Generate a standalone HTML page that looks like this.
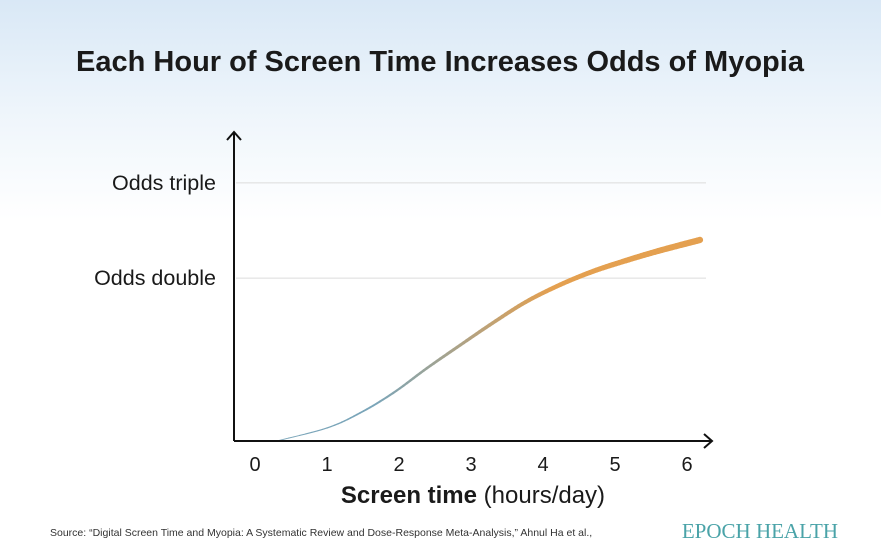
<!DOCTYPE html>
<html style="background:#fff"><head><meta charset="utf-8"><style>
html,body{margin:0;width:881px;height:544px;overflow:hidden;}
body{font-family:"Liberation Sans",sans-serif;background:linear-gradient(#d9e8f6 0px,#eef5fb 110px,#fff 220px,#fff 544px);}
svg{display:block}
</style></head><body>
<svg width="881" height="544" xmlns="http://www.w3.org/2000/svg">
<text x="440" y="71" text-anchor="middle" font-size="29" font-weight="bold" fill="#1a1a1a">Each Hour of Screen Time Increases Odds of Myopia</text>
<g id="grid"></g>
<g id="curve"></g>
<g id="axes"></g>
<text x="473" y="503" text-anchor="middle" font-size="24" fill="#1a1a1a"><tspan font-weight="bold">Screen time</tspan> (hours/day)</text>
<text x="50" y="536" font-size="10.5" fill="#333">Source: “Digital Screen Time and Myopia: A Systematic Review and Dose-Response Meta-Analysis,” Ahnul Ha et al.,</text>
<text x="838" y="538" text-anchor="end" font-size="21" fill="#4aa3a8" font-family="Liberation Serif,serif">EPOCH HEALTH</text>
</svg>
<script>
const hours=[0.3,1.0,1.46,1.92,2.39,2.85,3.3,3.76,4.24,4.7,5.15,5.6,6.18];
const odds=[1.0,1.057,1.127,1.227,1.364,1.504,1.652,1.807,1.945,2.06,2.155,2.245,2.353];
const xTicks=[0,1,2,3,4,5,6];
const yTickValues=[2,3];
const yTickLabels=["Odds double","Odds triple"];
const NS="http://www.w3.org/2000/svg";
const X=h=>255+h*72;
const Y=o=>441-541*Math.log10(o);
function mk(tag,attrs,parent){const e=document.createElementNS(NS,tag);for(const k in attrs)e.setAttribute(k,attrs[k]);parent.appendChild(e);return e;}
const grid=document.getElementById('grid'),axes=document.getElementById('axes'),curve=document.getElementById('curve');
yTickValues.forEach((v,i)=>{
 const l=mk('line',{x1:236,x2:706,y1:Y(v),y2:Y(v),stroke:'#dcdcdc','stroke-width':1},grid);
 
 
 const t=mk('text',{x:216,y:Y(v)+7,'text-anchor':'end','font-size':21.5,fill:'#1a1a1a'},grid);
 t.textContent=yTickLabels[i];
 
 
});
xTicks.forEach(h=>{
 const t=mk('text',{x:X(h),y:471,'text-anchor':'middle','font-size':20,fill:'#1a1a1a'},axes);
 t.textContent=h;
 
 
});
const ax=mk('path',{d:'M234,441 L234,132 M227,140 L234,132 L241,140 M234,441 L712,441 M704,434 L712,441 L704,448',fill:'none',stroke:'#111','stroke-width':2},axes);


const pts=hours.map((h,i)=>[X(h),Y(odds[i])]);
const samp=[];
for(let i=0;i<pts.length-1;i++){
 const p0=pts[Math.max(0,i-1)],p1=pts[i],p2=pts[i+1],p3=pts[Math.min(pts.length-1,i+2)];
 for(let s=0;s<10;s++){const t=s/10,t2=t*t,t3=t2*t;
  const f=(a,b,c,d)=>0.5*((2*b)+(-a+c)*t+(2*a-5*b+4*c-d)*t2+(-a+3*b-3*c+d)*t3);
  samp.push([f(p0[0],p1[0],p2[0],p3[0]),f(p0[1],p1[1],p2[1],p3[1])]);}
}
samp.push(pts[pts.length-1]);
const c0=[122,165,185],c1=[228,160,80];
for(let i=0;i<samp.length-1;i++){
 const t=i/(samp.length-2);
 const ct=Math.min(1,Math.max(0,(t-0.2)/0.45));
 const col=`rgb(${c0.map((v,k)=>Math.round(v+(c1[k]-v)*ct)).join(',')})`;
 const seg=mk('line',{x1:samp[i][0],y1:samp[i][1],x2:samp[i+1][0],y2:samp[i+1][1],stroke:col,'stroke-width':0.8+5.5*t,'stroke-linecap':'round'},curve);
 
 
}
</script>
</body></html>
